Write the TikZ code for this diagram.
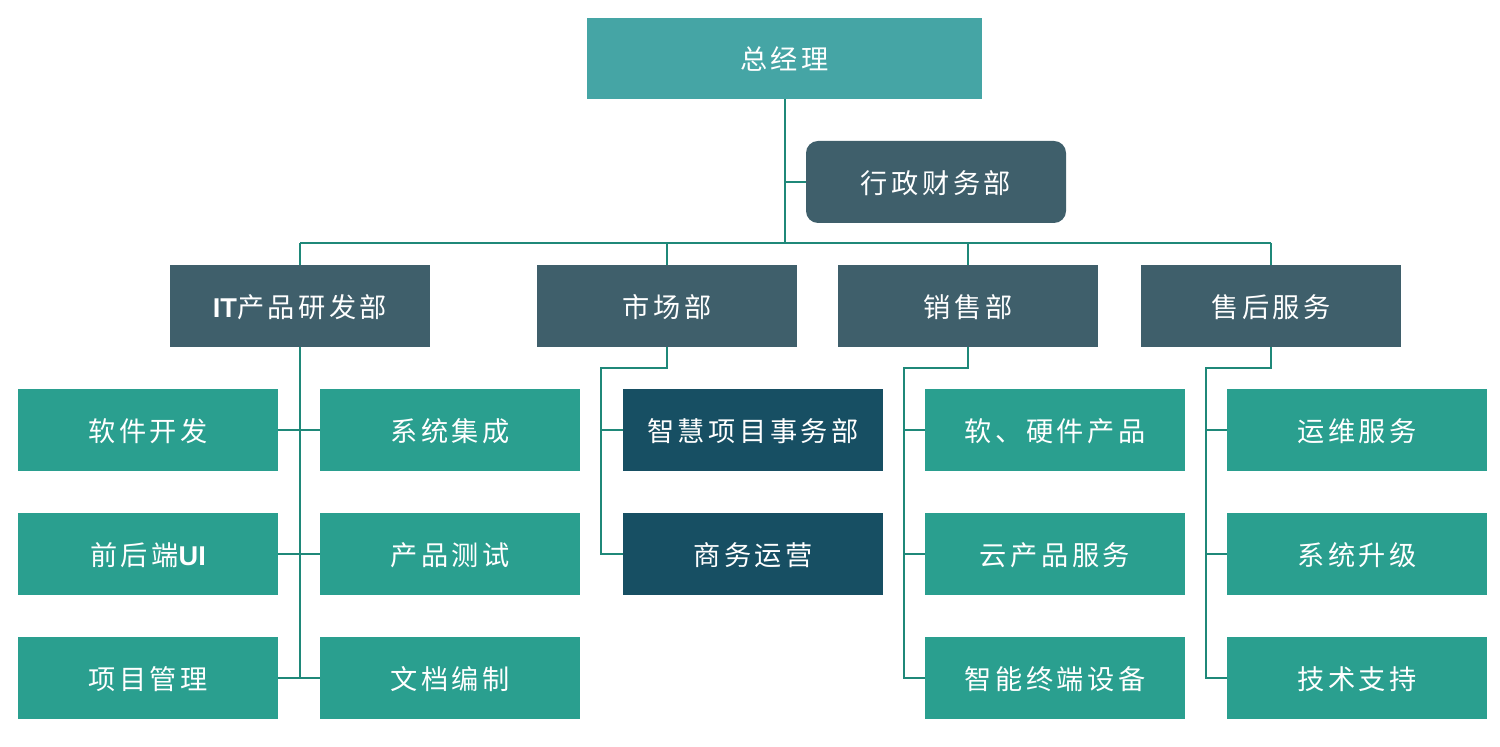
\documentclass[tikz,border=0pt]{standalone}
\usepackage{fontspec}
\usepackage{tikz}
\newfontfamily\cjk[LetterSpace=13]{Noto Sans CJK SC}
\newfontfamily\latinbf{Liberation Sans}
\definecolor{gmteal}{RGB}{69,165,165}
\definecolor{deptgrey}{RGB}{63,95,107}
\definecolor{subnavy}{RGB}{23,79,99}
\definecolor{leafgreen}{RGB}{42,159,143}
\definecolor{linkteal}{RGB}{31,136,121}
\newcommand{\lat}[1]{{\latinbf\bfseries #1}}

\tikzset{
  box/.style={draw=none, text=white, inner sep=0pt, font=\cjk\fontsize{13.6pt}{15pt}\selectfont,
              text depth=0pt, minimum width=130pt, minimum height=41pt},
  gmbox/.style={box, fill=gmteal, minimum width=197.5pt, minimum height=40.5pt},
  finbox/.style={box, fill=deptgrey, rounded corners=6pt},
  deptbox/.style={box, fill=deptgrey},
  subbox/.style={box, fill=subnavy},
  leafbox/.style={box, fill=leafgreen},
  link/.style={draw=linkteal, line width=1pt}
}

\begin{document}
\begin{tikzpicture}[x=0.5pt,y=-0.5pt]
\useasboundingbox (0,0) rectangle (1500,747);

%top
\node[gmbox] (gm) at (784.5,58.5) {总经理};
\node[finbox] (fin) at (936,182) {行政财务部};

%departments
\node[deptbox] (it) at (300,306) {\lat{IT}产品研发部};
\node[deptbox] (mk) at (667,306) {市场部};
\node[deptbox] (sl) at (968,306) {销售部};
\node[deptbox] (sv) at (1271,306) {售后服务};

%IT
\node[leafbox] (it1) at (148,430) {软件开发};
\node[leafbox] (it2) at (450,430) {系统集成};
\node[leafbox] (it3) at (148,554) {前后端\lat{UI}};
\node[leafbox] (it4) at (450,554) {产品测试};
\node[leafbox] (it5) at (148,678) {项目管理};
\node[leafbox] (it6) at (450,678) {文档编制};

%market
\node[subbox] (mk1) at (753,430) {智慧项目事务部};
\node[subbox] (mk2) at (753,554) {商务运营};

%sales
\node[leafbox] (sl1) at (1055,430) {软、硬件产品};
\node[leafbox] (sl2) at (1055,554) {云产品服务};
\node[leafbox] (sl3) at (1055,678) {智能终端设备};

%service
\node[leafbox] (sv1) at (1357,430) {运维服务};
\node[leafbox] (sv2) at (1357,554) {系统升级};
\node[leafbox] (sv3) at (1357,678) {技术支持};

%connectors
\coordinate (bus) at (784,243);
\coordinate (mkbend) at (601,368);
\coordinate (slbend) at (904,368);
\coordinate (svbend) at (1206,368);

\draw[link] (gm.south) -- (gm.south |- bus);
\draw[link] (gm.south |- fin.west) -- (fin.west);
\draw[link] (it.north |- bus) -- (sv.north |- bus);
\foreach \d in {it,mk,sl,sv}
  \draw[link] (\d.north |- bus) -- (\d.north);

\draw[link] (it.south) -- (it.south |- it5.east);
\draw[link] (it1.east) -- (it2.west);
\draw[link] (it3.east) -- (it4.west);
\draw[link] (it5.east) -- (it6.west);

\draw[link] (mk.south) |- (mkbend) |- (mk2.west);
\draw[link] (mkbend |- mk1.west) -- (mk1.west);

\draw[link] (sl.south) |- (slbend) |- (sl3.west);
\draw[link] (slbend |- sl1.west) -- (sl1.west);
\draw[link] (slbend |- sl2.west) -- (sl2.west);

\draw[link] (sv.south) |- (svbend) |- (sv3.west);
\draw[link] (svbend |- sv1.west) -- (sv1.west);
\draw[link] (svbend |- sv2.west) -- (sv2.west);

\end{tikzpicture}
\end{document}
